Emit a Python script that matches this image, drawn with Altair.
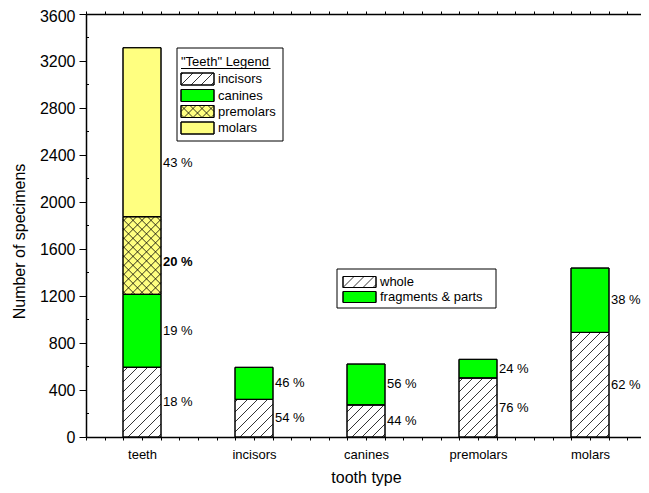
import altair as alt
import pandas as pd

# ---------------- data ----------------
categories = ["teeth", "incisors", "canines", "premolars", "molars"]
tooth_types = ["incisors", "canines", "premolars", "molars"]
teeth_counts = [593, 621, 661, 1438]          # stacked in the "teeth" bar
whole_counts = [320, 273, 502, 890]
fragment_counts = [273, 348, 159, 548]
teeth_pct = ["18 %", "19 %", "20 %", "43 %"]
whole_pct = ["54 %", "44 %", "76 %", "62 %"]
fragment_pct = ["46 %", "56 %", "24 %", "38 %"]
y_tick_values = [0, 400, 800, 1200, 1600, 2000, 2400, 2800, 3200, 3600]
y_minor_values = [200, 600, 1000, 1400, 1800, 2200, 2600, 3000, 3400]
teeth_legend_title = '"Teeth" Legend'
part_kinds = ["whole", "fragments & parts"]

# ---------------- layout / style ----------------
PLOT_W, PLOT_H = 555, 423
LEFT_PX, TOP_PX = 86, 14          # plot origin on the page
X_MIN, KX = 0.5, 112.0            # px per category unit
X_MAX = X_MIN + PLOT_W / KX
Y_MAX = 3600
KY = PLOT_H / Y_MAX
HALF = 19 / KX                    # half bar width in category units
FONT = "Liberation Sans"

colors = {"incisors": "#FFFFFF", "canines": "#00FF00", "premolars": "#FFFF80",
          "molars": "#FFFF80", "whole": "#FFFFFF", "fragments & parts": "#00FF00"}
hatch = {"incisors": "/", "premolars": "x", "whole": "/"}
label_shift_px = {("teeth", "molars"): 31, ("teeth", "premolars"): 6}
bold_labels = {("teeth", "premolars")}


def to_x(px):
    return X_MIN + (px - LEFT_PX) / KX


def to_y(py):
    return (TOP_PX + PLOT_H - py) / KY


# ---------------- segments ----------------
rows = []
base = 0
for t, c, p in zip(tooth_types, teeth_counts, teeth_pct):
    rows.append(dict(cat="teeth", kind=t, xl=1 - HALF, xr=1 + HALF, yb=base, yt=base + c,
                     label=p, bold=("teeth", t) in bold_labels,
                     shift=label_shift_px.get(("teeth", t), 0)))
    base += c
for i, t in enumerate(tooth_types):
    pos = i + 2
    w, f = whole_counts[i], fragment_counts[i]
    rows.append(dict(cat=t, kind="whole", xl=pos - HALF, xr=pos + HALF, yb=0, yt=w,
                     label=whole_pct[i], bold=False, shift=0))
    rows.append(dict(cat=t, kind="fragments & parts", xl=pos - HALF, xr=pos + HALF, yb=w, yt=w + f,
                     label=fragment_pct[i], bold=False, shift=0))
seg = pd.DataFrame(rows)
seg["ylab"] = (seg["yb"] + seg["yt"]) / 2 - seg["shift"] / KY

# ---------------- legends (pixel layout converted to data units) ----------------
sw = []
lt = []
for kind, cy in zip(tooth_types, [79, 95.5, 111.5, 128]):
    sw.append(dict(kind=kind, xl=to_x(181), xr=to_x(214), yb=to_y(cy + 6), yt=to_y(cy - 6)))
    lt.append(dict(text=kind, tx=to_x(218), ty=to_y(cy)))
for kind, cy in zip(part_kinds, [282, 297]):
    sw.append(dict(kind=kind, xl=to_x(343), xr=to_x(376), yb=to_y(cy + 5.5), yt=to_y(cy - 5.5)))
    lt.append(dict(text=kind, tx=to_x(380), ty=to_y(cy)))
lt.append(dict(text=teeth_legend_title, tx=to_x(181), ty=to_y(62)))
swatch = pd.DataFrame(sw)
ltext = pd.DataFrame(lt)
boxes = pd.DataFrame([
    dict(xl=to_x(177), xr=to_x(283), yb=to_y(141), yt=to_y(48)),
    dict(xl=to_x(337), xr=to_x(496), yb=to_y(308), yt=to_y(269)),
])
underline = pd.DataFrame([dict(xa=to_x(181), xb=to_x(270.5), yv=to_y(68.5))])

hatched = pd.concat([seg[["kind", "xl", "xr", "yb", "yt"]], swatch], ignore_index=True)
hatched = hatched[hatched["kind"].isin(list(hatch))].copy()
hatched["style"] = hatched["kind"].map(hatch)

# ---------------- scales / axes ----------------
xscale = alt.Scale(domain=[X_MIN, X_MAX], nice=False, zero=False)
yscale = alt.Scale(domain=[0, Y_MAX], nice=False)
cscale = alt.Scale(domain=list(colors), range=list(colors.values()))

n_ticks = int((X_MAX - X_MIN) * 6 + 1e-9) + 1
x_ticks = [round(X_MIN + k / 6, 6) for k in range(n_ticks)]
arr = "[" + ",".join("'" + c + "'" for c in categories) + "]"
label_expr = ("abs(datum.value - round(datum.value)) < 0.01 && round(datum.value) >= 1 && "
              f"round(datum.value) <= {len(categories)} ? {arr}[round(datum.value) - 1] : ''")

bottom_axis = alt.Axis(values=x_ticks, labelExpr=label_expr, labelOverlap=False, labelFlush=False,
                       labelBound=False, tickSize=3, labelPadding=18, labelBaseline="alphabetic",
                       labelFontSize=13, labelAngle=0, title="tooth type", titleFontSize=16,
                       titleX=280, titleY=45, titleBaseline="alphabetic", grid=False)
left_axis = alt.Axis(values=y_tick_values, format="d", tickSize=7, labelPadding=4, labelFontSize=16,
                     labelOffset={"condition": {"test": f"datum.value >= {Y_MAX}", "value": 2},
                                  "value": 0},
                     labelFlush=False, labelOverlap=False,
                     title="Number of specimens", titleFontSize=16, titleX=-62, titleY=227,
                     titleBaseline="alphabetic", titleAngle=270, grid=False)
top_axis = alt.Axis(orient="top", values=x_ticks, labels=False, tickSize=3, title=None, grid=False)


def xy(xfield="xl", x2field="xr", yfield="yb", y2field="yt"):
    return dict(x=alt.X(xfield + ":Q", scale=xscale, axis=None), x2=x2field + ":Q",
                y=alt.Y(yfield + ":Q", scale=yscale, axis=None), y2=y2field + ":Q")


bars = alt.Chart(seg).mark_rect(stroke="black", strokeWidth=1).encode(
    x=alt.X("xl:Q", scale=xscale, axis=bottom_axis), x2="xr:Q",
    y=alt.Y("yb:Q", scale=yscale, axis=left_axis), y2="yt:Q",
    fill=alt.Fill("kind:N", scale=cscale, legend=None),
)

legend_boxes = alt.Chart(boxes).mark_rect(fill="white", stroke="black", strokeWidth=1).encode(**xy())

swatches = alt.Chart(swatch).mark_rect(stroke="black", strokeWidth=1).encode(
    fill=alt.Fill("kind:N", scale=cscale, legend=None), **xy())


def hatch_layer(direction, step):
    src = hatched if direction == "/" else hatched[hatched["style"] == "x"]
    step_expr = f"(datum.style == 'x' ? {step - 1} : {step})"
    ch = alt.Chart(src).transform_calculate(
        W=f"(datum.xr - datum.xl) * {KX}"
    ).transform_calculate(
        H=f"(datum.yt - datum.yb) * {KY}"
    )
    if direction == "/":
        ch = ch.transform_calculate(c=f"sequence(-datum.W + 3, datum.H, {step_expr})") \
            .transform_flatten(["c"]) \
            .transform_calculate(u0="max(0, -datum.c)") \
            .transform_calculate(u1="min(datum.W, datum.H - datum.c)") \
            .transform_calculate(v0="datum.u0 + datum.c") \
            .transform_calculate(v1="datum.u1 + datum.c")
    else:
        ch = ch.transform_calculate(c=f"sequence(3, datum.W + datum.H, {step_expr})") \
            .transform_flatten(["c"]) \
            .transform_calculate(u0="max(0, datum.c - datum.H)") \
            .transform_calculate(u1="min(datum.W, datum.c)") \
            .transform_calculate(v0="datum.c - datum.u0") \
            .transform_calculate(v1="datum.c - datum.u1")
    ch = ch.transform_filter("datum.u1 > datum.u0") \
        .transform_calculate(xa=f"datum.xl + datum.u0 / {KX}") \
        .transform_calculate(xb=f"datum.xl + datum.u1 / {KX}") \
        .transform_calculate(ya=f"datum.yb + datum.v0 / {KY}") \
        .transform_calculate(yb2=f"datum.yb + datum.v1 / {KY}")
    return ch.mark_rule(color="black", strokeWidth=0.8).encode(**xy("xa", "xb", "ya", "yb2"))


hatch_fwd = hatch_layer("/", 10)
hatch_back = hatch_layer("\\", 10)

outlines = alt.Chart(pd.concat([seg[["xl", "xr", "yb", "yt"]], swatch[["xl", "xr", "yb", "yt"]]])) \
    .mark_rect(fillOpacity=0, stroke="black", strokeWidth=1).encode(**xy())

pct_normal = alt.Chart(seg[~seg["bold"]]).mark_text(
    align="left", baseline="middle", dx=2, fontSize=13, font=FONT, color="black"
).encode(x=alt.X("xr:Q", scale=xscale, axis=None), y=alt.Y("ylab:Q", scale=yscale, axis=None),
         text="label:N")
pct_bold = alt.Chart(seg[seg["bold"]]).mark_text(
    align="left", baseline="middle", dx=2, fontSize=13, font=FONT, fontWeight="bold", color="black"
).encode(x=alt.X("xr:Q", scale=xscale, axis=None), y=alt.Y("ylab:Q", scale=yscale, axis=None),
         text="label:N")

legend_text = alt.Chart(ltext).mark_text(
    align="left", baseline="middle", fontSize=13, font=FONT, color="black"
).encode(x=alt.X("tx:Q", scale=xscale, axis=None), y=alt.Y("ty:Q", scale=yscale, axis=None),
         text="text:N")

legend_underline = alt.Chart(underline).mark_rule(color="black", strokeWidth=1).encode(
    x=alt.X("xa:Q", scale=xscale, axis=None), x2="xb:Q",
    y=alt.Y("yv:Q", scale=yscale, axis=None))

minor_ticks = alt.Chart(pd.DataFrame({"v": y_minor_values})).mark_rule(
    color="black", strokeWidth=1
).encode(y=alt.Y("v:Q", scale=yscale, axis=None), x=alt.value(0), x2=alt.value(3))

top = alt.Chart(seg).mark_point(opacity=0).encode(
    x=alt.X("xl:Q", scale=xscale, axis=top_axis),
    y=alt.Y("yb:Q", scale=yscale, axis=None))

chart = alt.layer(
    bars, legend_boxes, swatches, hatch_fwd, hatch_back, outlines,
    pct_normal, pct_bold, legend_text, legend_underline, minor_ticks, top
).resolve_axis(x="independent", y="independent").properties(
    width=PLOT_W, height=PLOT_H,
    autosize=alt.AutoSizeParams(type="none"),
    padding={"left": LEFT_PX - 8, "top": TOP_PX - 8, "right": 0, "bottom": 50},
).configure_view(stroke=None).configure_axis(
    domainColor="black", domainWidth=1.5, tickColor="black", tickWidth=1,
    labelColor="black", titleColor="black", labelFont=FONT, titleFont=FONT,
    titleFontWeight="normal",
)

chart.save("out.html", embed_options={"renderer": "svg", "actions": False})
